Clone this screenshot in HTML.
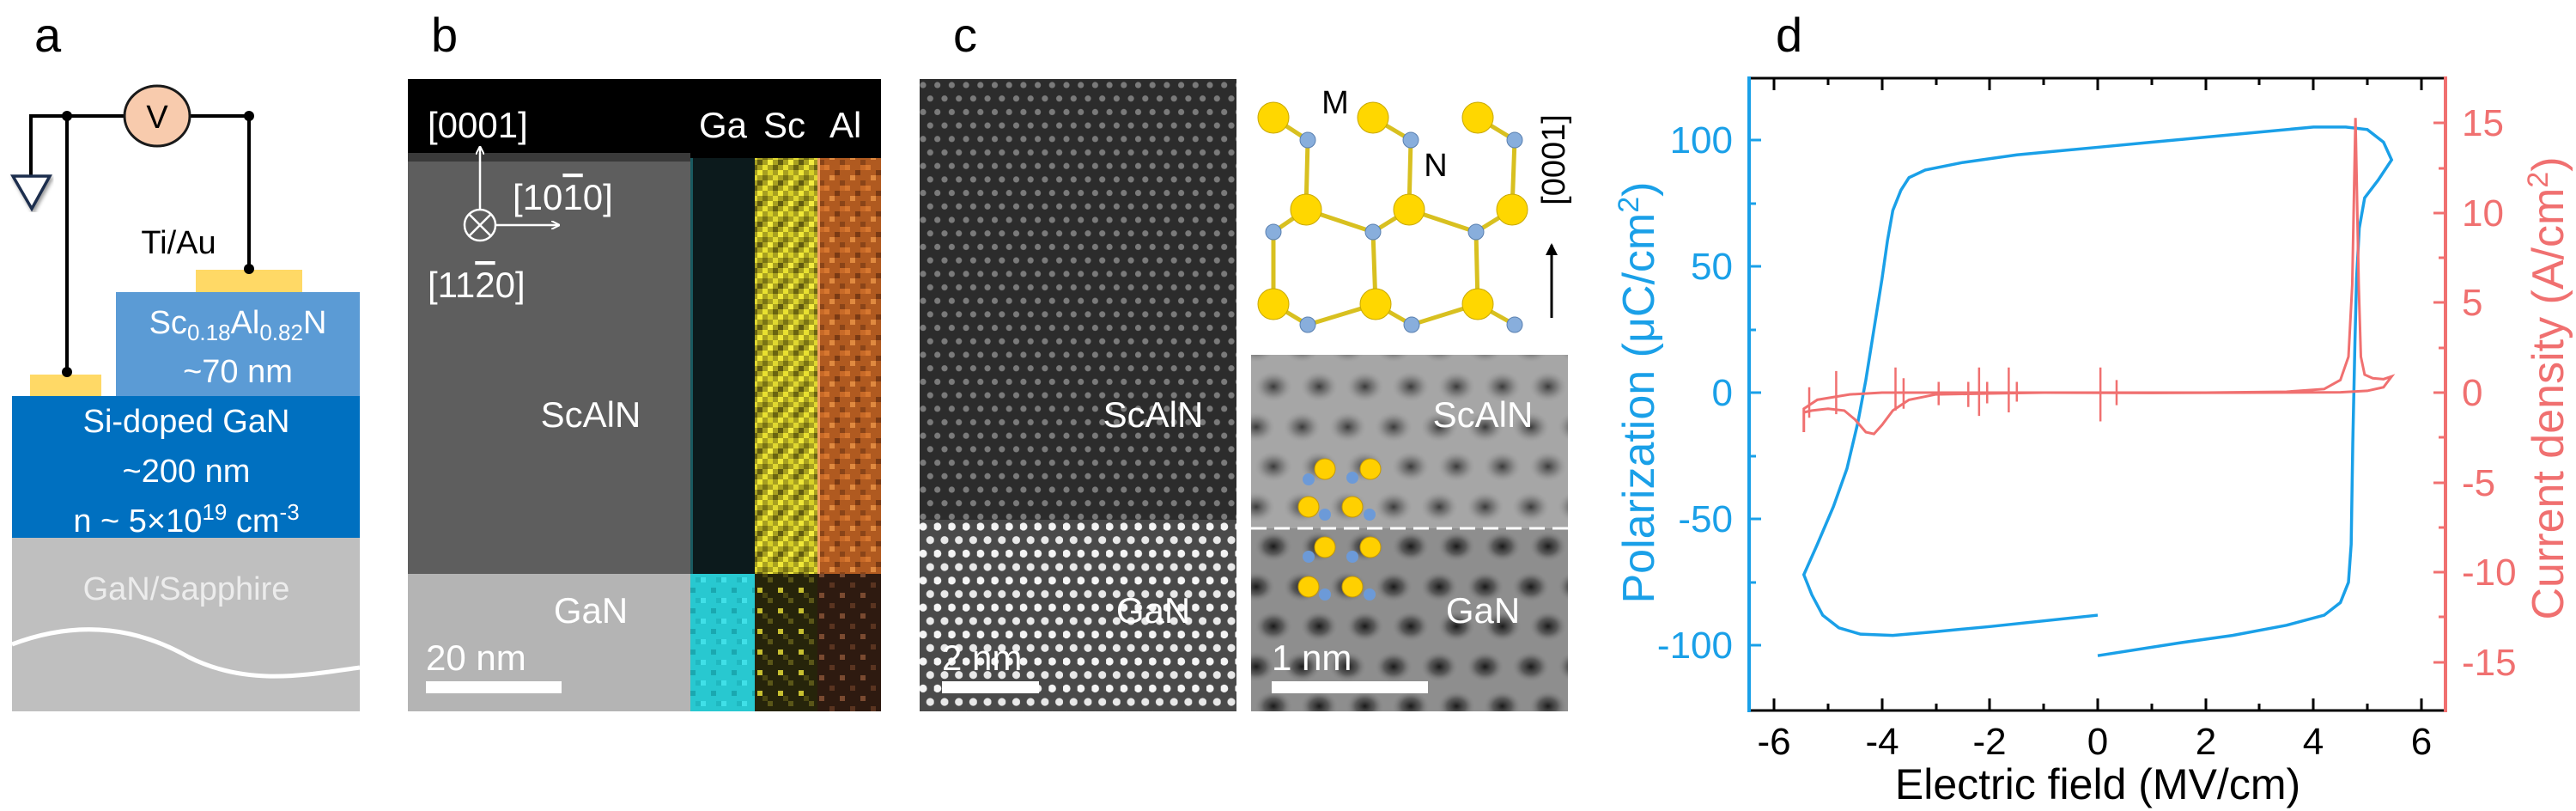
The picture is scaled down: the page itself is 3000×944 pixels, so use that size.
<!DOCTYPE html>
<html><head><meta charset="utf-8"><style>
html,body{margin:0;padding:0;background:#fff}
svg{display:block}
text{font-family:"Liberation Sans",Arial,sans-serif}
</style></head><body>
<svg width="3000" height="944" viewBox="0 0 3000 944" xmlns="http://www.w3.org/2000/svg">
<defs>
<pattern id="scDots" x="1071" y="92" width="16.7" height="31.4" patternUnits="userSpaceOnUse">
<rect width="16.7" height="31.4" fill="#2c2c2c"/>
<circle cx="4" cy="7" r="3.6" fill="#7a7a7a"/>
<circle cx="12.3" cy="22.7" r="3.6" fill="#7a7a7a"/>
</pattern>
<pattern id="ganDots" x="1071" y="605" width="16.7" height="31.4" patternUnits="userSpaceOnUse">
<rect width="16.7" height="31.4" fill="#4a4a4a"/>
<circle cx="4" cy="8" r="4.6" fill="#f4f4f4"/>
<circle cx="12.3" cy="23.7" r="4.6" fill="#e8e8e8"/>
</pattern>
<radialGradient id="spot"><stop offset="0" stop-color="#1a1a1a"/><stop offset="0.5" stop-color="#444" stop-opacity="0.7"/><stop offset="1" stop-color="#888" stop-opacity="0"/></radialGradient>
<radialGradient id="spotL"><stop offset="0" stop-color="#3a3a3a"/><stop offset="0.5" stop-color="#666" stop-opacity="0.6"/><stop offset="1" stop-color="#999" stop-opacity="0"/></radialGradient>
<pattern id="hrSpots" x="1457" y="427" width="53.3" height="93" patternUnits="userSpaceOnUse">
<rect width="53.3" height="93" fill="#8e8e8e"/>
<ellipse cx="26" cy="23" rx="22" ry="18" fill="url(#spot)"/>
<ellipse cx="6" cy="70" rx="22" ry="18" fill="url(#spot)"/>
<ellipse cx="59.3" cy="70" rx="22" ry="18" fill="url(#spot)"/>
</pattern>
<pattern id="hrSpotsTop" x="1457" y="427" width="53.3" height="93" patternUnits="userSpaceOnUse">
<rect width="53.3" height="93" fill="#a6a6a6"/>
<ellipse cx="26" cy="23" rx="22" ry="18" fill="url(#spotL)"/>
<ellipse cx="6" cy="70" rx="22" ry="18" fill="url(#spotL)"/>
<ellipse cx="59.3" cy="70" rx="22" ry="18" fill="url(#spotL)"/>
</pattern>
<pattern id="scY" width="24" height="24" patternUnits="userSpaceOnUse">
<rect width="24" height="24" fill="#a8a020"/>
<rect x="0" y="0" width="6" height="6" fill="#e8e030"/><rect x="12" y="0" width="6" height="6" fill="#6a6410"/>
<rect x="6" y="6" width="6" height="6" fill="#d8d028"/><rect x="18" y="6" width="6" height="6" fill="#f0e838"/>
<rect x="0" y="12" width="6" height="6" fill="#7a7414"/><rect x="12" y="12" width="6" height="6" fill="#e0d830"/>
<rect x="6" y="18" width="6" height="6" fill="#f4ec40"/><rect x="18" y="18" width="6" height="6" fill="#605a10"/>
</pattern>
<pattern id="scD" width="24" height="24" patternUnits="userSpaceOnUse">
<rect width="24" height="24" fill="#26240a"/>
<rect x="6" y="0" width="6" height="6" fill="#5a5618"/><rect x="18" y="12" width="6" height="6" fill="#c8c030"/>
<rect x="0" y="18" width="6" height="6" fill="#4a4612"/>
</pattern>
<pattern id="alO" width="24" height="24" patternUnits="userSpaceOnUse">
<rect width="24" height="24" fill="#b05a20"/>
<rect x="0" y="0" width="6" height="6" fill="#d87830"/><rect x="12" y="6" width="6" height="6" fill="#7a3a14"/>
<rect x="6" y="12" width="6" height="6" fill="#e08a40"/><rect x="18" y="18" width="6" height="6" fill="#8a4418"/>
<rect x="18" y="0" width="6" height="6" fill="#c86a28"/>
</pattern>
<pattern id="alD" width="24" height="24" patternUnits="userSpaceOnUse">
<rect width="24" height="24" fill="#2e1a10"/>
<rect x="6" y="6" width="6" height="6" fill="#5a3420"/><rect x="18" y="18" width="6" height="6" fill="#7a4a30"/>
</pattern>
<pattern id="gaC" width="24" height="24" patternUnits="userSpaceOnUse">
<rect width="24" height="24" fill="#28c8d0"/>
<rect x="0" y="0" width="6" height="6" fill="#40e0e8"/><rect x="12" y="12" width="6" height="6" fill="#1aa8b0"/>
<rect x="18" y="0" width="6" height="6" fill="#20b8c0"/>
</pattern>
<marker id="ah" markerWidth="10" markerHeight="10" refX="8" refY="5" orient="auto" markerUnits="userSpaceOnUse"><path d="M0,0 L10,5 L0,10" fill="none" stroke="#fff" stroke-width="2"/></marker>
<marker id="ahk" markerWidth="14" markerHeight="14" refX="12" refY="7" orient="auto" markerUnits="userSpaceOnUse"><path d="M0,0 L14,7 L0,14 Z" fill="#000"/></marker>
<filter id="sh"><feDropShadow dx="2" dy="3" stdDeviation="2" flood-opacity="0.4"/></filter>
</defs>

<!-- ===== Panel a ===== -->
<text x="40" y="60" font-size="56">a</text>
<rect x="14" y="626" width="405" height="202" fill="#bfbfbf"/>
<path d="M14,750 C80,725 150,725 220,765 C290,800 360,785 419,777" fill="none" stroke="#fff" stroke-width="5"/>
<text x="217" y="698" font-size="38" fill="#ececec" text-anchor="middle">GaN/Sapphire</text>
<rect x="14" y="461" width="405" height="165" fill="#0070c0"/>
<text x="217" y="503" font-size="38" fill="#fff" text-anchor="middle">Si-doped GaN</text>
<text x="217" y="561" font-size="38" fill="#fff" text-anchor="middle">~200 nm</text>
<text x="217" y="619" font-size="38" fill="#fff" text-anchor="middle">n ~ 5×10<tspan font-size="26" dy="-14">19</tspan><tspan dy="14"> cm</tspan><tspan font-size="26" dy="-14">-3</tspan></text>
<rect x="135" y="340" width="284" height="121" fill="#5b9bd5"/>
<text x="277" y="388" font-size="38" fill="#fff" text-anchor="middle">Sc<tspan font-size="26" dy="8">0.18</tspan><tspan dy="-8">Al</tspan><tspan font-size="26" dy="8">0.82</tspan><tspan dy="-8">N</tspan></text>
<text x="277" y="445" font-size="38" fill="#fff" text-anchor="middle">~70 nm</text>
<rect x="228" y="314" width="124" height="26" fill="#ffd966"/>
<rect x="35" y="436" width="83" height="25" fill="#ffd966"/>
<text x="208" y="295" font-size="38" text-anchor="middle">Ti/Au</text>
<g stroke="#000" stroke-width="4" fill="none">
<path d="M36,135 L290,135 L290,313"/>
<path d="M78,135 L78,433"/>
<path d="M36,133 L36,204"/>
</g>
<path d="M15,205 L58,205 L37,243 Z" fill="#fff" stroke="#1f2d4e" stroke-width="3.5" filter="url(#sh)"/>
<circle cx="78" cy="135" r="6"/><circle cx="290" cy="135" r="6"/><circle cx="78" cy="433" r="6"/><circle cx="290" cy="313" r="6"/>
<ellipse cx="183" cy="135" rx="38" ry="35" fill="#f8cbad" stroke="#1a1a1a" stroke-width="3"/>
<text x="183" y="149" font-size="38" text-anchor="middle">V</text>

<!-- ===== Panel b ===== -->
<text x="502" y="60" font-size="56">b</text>
<rect x="475" y="92" width="551" height="736" fill="#000"/>
<rect x="475" y="184" width="329" height="484" fill="#5e5e5e"/>
<rect x="475" y="178" width="329" height="10" fill="#3a3a3a"/>
<rect x="475" y="668" width="329" height="160" fill="#b4b4b4"/>
<rect x="804" y="184" width="75" height="484" fill="#0c1a1c"/>
<rect x="804" y="184" width="3" height="484" fill="#1a5a60"/>
<rect x="804" y="668" width="75" height="160" fill="url(#gaC)"/>
<rect x="879" y="184" width="73" height="484" fill="url(#scY)"/>
<rect x="879" y="668" width="73" height="160" fill="url(#scD)"/>
<rect x="952" y="184" width="74" height="484" fill="url(#alO)"/>
<rect x="952" y="184" width="3" height="484" fill="#f0a060"/>
<rect x="952" y="668" width="74" height="160" fill="url(#alD)"/>
<g fill="#fff" font-size="42">
<text x="498" y="160">[0001]</text>
<text x="814" y="160">Ga</text><text x="889" y="160">Sc</text><text x="966" y="160">Al</text>
<text x="597" y="244">[10<tspan text-decoration="overline">1</tspan>0]</text>
<text x="498" y="346">[11<tspan text-decoration="overline">2</tspan>0]</text>
<text x="688" y="497" text-anchor="middle">ScAlN</text>
<text x="688" y="725" text-anchor="middle">GaN</text>
<text x="496" y="780">20 nm</text>
</g>
<rect x="496" y="793" width="158" height="14" fill="#fff"/>
<g stroke="#fff" stroke-width="2.5" fill="none">
<circle cx="559" cy="262" r="18"/>
<path d="M546,249 L572,275 M572,249 L546,275"/>
<path d="M559,244 L559,172" marker-end="url(#ah)"/>
<path d="M577,262 L650,262" marker-end="url(#ah)"/>
</g>

<!-- ===== Panel c ===== -->
<text x="1110" y="60" font-size="56">c</text>
<rect x="1071" y="92" width="369" height="513" fill="url(#scDots)"/>
<rect x="1071" y="605" width="369" height="223" fill="url(#ganDots)"/>
<g fill="#fff" font-size="42">
<text x="1343" y="497" text-anchor="middle">ScAlN</text>
<text x="1343" y="725" text-anchor="middle">GaN</text>
<text x="1097" y="780">2 nm</text>
</g>
<rect x="1097" y="793" width="113" height="14" fill="#fff"/>

<!-- crystal structure -->
<g stroke-width="5">
<g stroke="#d8c020">
<path d="M1483,137 L1523,163 M1599,137 L1643,163 M1721,137 L1764,163 M1523,163 L1521,244 M1643,163 L1641,244 M1764,163 L1761,244 M1521,244 L1483,270 M1521,244 L1599,270 M1641,244 L1599,270 M1641,244 L1719,270 M1761,244 L1719,270 M1483,270 L1483,354 M1599,270 L1602,354 M1719,270 L1721,354 M1483,354 L1523,378 M1523,378 L1602,354 M1602,354 L1644,378 M1644,378 L1721,354 M1721,354 L1764,378"/>
</g>
</g>
<g fill="#ffd700" stroke="#c8a800" stroke-width="1">
<circle cx="1483" cy="137" r="18"/><circle cx="1599" cy="137" r="18"/><circle cx="1721" cy="137" r="18"/>
<circle cx="1521" cy="244" r="18"/><circle cx="1641" cy="244" r="18"/><circle cx="1761" cy="244" r="18"/>
<circle cx="1483" cy="354" r="18"/><circle cx="1602" cy="354" r="18"/><circle cx="1721" cy="354" r="18"/>
</g>
<g fill="#88aedc" stroke="#5a80b0" stroke-width="1">
<circle cx="1523" cy="163" r="9"/><circle cx="1643" cy="163" r="9"/><circle cx="1764" cy="163" r="9"/>
<circle cx="1483" cy="270" r="9"/><circle cx="1599" cy="270" r="9"/><circle cx="1719" cy="270" r="9"/>
<circle cx="1523" cy="378" r="9"/><circle cx="1644" cy="378" r="9"/><circle cx="1764" cy="378" r="9"/>
</g>
<text x="1555" y="132" font-size="38" text-anchor="middle">M</text>
<text x="1672" y="205" font-size="38" text-anchor="middle">N</text>
<text transform="translate(1822,186) rotate(-90)" font-size="38" text-anchor="middle">[0001]</text>
<path d="M1807,370 L1807,285" stroke="#000" stroke-width="3" marker-end="url(#ahk)"/>

<!-- HRSTEM -->
<rect x="1457" y="413" width="369" height="202" fill="url(#hrSpotsTop)"/>
<rect x="1457" y="615" width="369" height="213" fill="url(#hrSpots)"/>
<path d="M1457,615 L1826,615" stroke="#fff" stroke-width="3" stroke-dasharray="18,9"/>
<g fill="#ffd000" stroke="#c89a00" stroke-width="1">
<circle cx="1543" cy="546" r="12"/><circle cx="1596" cy="546" r="12"/><circle cx="1524" cy="590" r="12"/><circle cx="1575" cy="590" r="12"/>
<circle cx="1543" cy="637" r="12"/><circle cx="1596" cy="637" r="12"/><circle cx="1524" cy="683" r="12"/><circle cx="1575" cy="683" r="12"/>
</g>
<g fill="#6c9ad8">
<circle cx="1524" cy="558" r="7"/><circle cx="1575" cy="556" r="7"/><circle cx="1543" cy="599" r="7"/><circle cx="1595" cy="599" r="7"/>
<circle cx="1524" cy="648" r="7"/><circle cx="1575" cy="648" r="7"/><circle cx="1543" cy="692" r="7"/><circle cx="1595" cy="692" r="7"/>
</g>
<g fill="#fff" font-size="42">
<text x="1727" y="497" text-anchor="middle">ScAlN</text>
<text x="1727" y="725" text-anchor="middle">GaN</text>
<text x="1481" y="780">1 nm</text>
</g>
<rect x="1481" y="793" width="182" height="14" fill="#fff"/>

<!-- ===== Panel d ===== -->
<text x="2068" y="60" font-size="56">d</text>
<path d="M2037,91 L2848,91 M2037,827 L2848,827" stroke="#000" stroke-width="3"/>
<path d="M2037,89 L2037,829" stroke="#1aa0e8" stroke-width="4"/>
<path d="M2848,89 L2848,829" stroke="#f07070" stroke-width="4"/>
<g stroke="#000" stroke-width="3">
<path d="M2066,827 v-14 M2192,827 v-14 M2317,827 v-14 M2443,827 v-14 M2569,827 v-14 M2694,827 v-14 M2820,827 v-14"/>
<path d="M2129,827 v-8 M2255,827 v-8 M2380,827 v-8 M2506,827 v-8 M2631,827 v-8 M2757,827 v-8"/>
<path d="M2066,91 v14 M2192,91 v14 M2317,91 v14 M2443,91 v14 M2569,91 v14 M2694,91 v14 M2820,91 v14"/>
<path d="M2129,91 v8 M2255,91 v8 M2380,91 v8 M2506,91 v8 M2631,91 v8 M2757,91 v8"/>
</g>
<g stroke="#1aa0e8" stroke-width="3">
<path d="M2037,163 h14 M2037,310 h14 M2037,457 h14 M2037,604 h14 M2037,751 h14"/>
<path d="M2037,237 h8 M2037,384 h8 M2037,531 h8 M2037,678 h8"/>
</g>
<g stroke="#f07070" stroke-width="3">
<path d="M2848,143 h-14 M2848,248 h-14 M2848,352 h-14 M2848,457 h-14 M2848,562 h-14 M2848,666 h-14 M2848,771 h-14"/>
<path d="M2848,196 h-8 M2848,300 h-8 M2848,405 h-8 M2848,509 h-8 M2848,614 h-8 M2848,718 h-8"/>
</g>
<g font-size="44" fill="#1aa0e8" text-anchor="end">
<text x="2018" y="178">100</text><text x="2018" y="325">50</text><text x="2018" y="472">0</text><text x="2018" y="619">-50</text><text x="2018" y="766">-100</text>
</g>
<g font-size="44" fill="#f07070">
<text x="2867" y="158">15</text><text x="2867" y="263">10</text><text x="2867" y="367">5</text><text x="2867" y="472">0</text><text x="2867" y="577">-5</text><text x="2867" y="681">-10</text><text x="2867" y="786">-15</text>
</g>
<g font-size="44" text-anchor="middle">
<text x="2066" y="878">-6</text><text x="2192" y="878">-4</text><text x="2317" y="878">-2</text><text x="2443" y="878">0</text><text x="2569" y="878">2</text><text x="2694" y="878">4</text><text x="2820" y="878">6</text>
</g>
<text x="2443" y="930" font-size="50" text-anchor="middle">Electric field (MV/cm)</text>
<text transform="translate(1926,457) rotate(-90)" font-size="52" fill="#1aa0e8" text-anchor="middle">Polarization (μC/cm<tspan font-size="34" dy="-18">2</tspan><tspan dy="18">)</tspan></text>
<text transform="translate(2985,452) rotate(-90)" font-size="52" fill="#f07070" text-anchor="middle">Current density (A/cm<tspan font-size="34" dy="-18">2</tspan><tspan dy="18">)</tspan></text>

<g transform="translate(2443,457) scale(62.8,-2.944)">
<path vector-effect="non-scaling-stroke" fill="none" stroke="#1aa0e8" stroke-width="3.5"
d="M0,-88 L-2,-92.5 L-3,-94.5 L-3.8,-96 L-4.4,-95.5 L-4.8,-93 L-5.1,-88 L-5.3,-80 L-5.45,-72 L-5.2,-60 L-4.9,-45 L-4.65,-30 L-4.45,-12 L-4.3,5 L-4.15,25 L-4,45 L-3.9,60 L-3.8,72 L-3.65,80 L-3.5,85 L-3.2,88 L-2.5,91 L-1.5,94 L0,97 L1,99 L2,101 L3,103 L4,105 L4.6,105 L5,104 L5.3,99 L5.45,92 L5.2,84 L4.95,77 L4.85,65 L4.8,45 L4.77,20 L4.73,-20 L4.7,-60 L4.65,-75 L4.5,-83 L4.2,-88 L3.5,-92 L2.5,-96 L1.5,-99 L0,-104"/>
</g>
<g transform="translate(2443,457) scale(62.8,-20.9)">
<path vector-effect="non-scaling-stroke" fill="none" stroke="#f07070" stroke-width="3"
d="M-5.45,-2.2 L-5.45,-0.9 L-5.2,-0.4 L-5,-0.3 L-4.6,-0.1 L-4,0 L-3,0 L-2,0 L0,0 L2,0 L3.5,0.05 L4.2,0.2 L4.5,0.7 L4.65,2 L4.72,6 L4.78,15.3 L4.84,6 L4.88,2 L4.95,1 L5.1,0.8 L5.3,0.75 L5.45,0.9 L5.3,0.3 L5,0.1 L4.5,0.02 L3,0 L1,-0.02 L-1,0 L-2,-0.05 L-3,-0.1 L-3.5,-0.4 L-3.8,-1 L-4,-1.8 L-4.15,-2.3 L-4.3,-2.2 L-4.5,-1.5 L-4.7,-1.0 L-5,-0.9 L-5.3,-1 L-5.45,-1.1"/>
<path vector-effect="non-scaling-stroke" fill="none" stroke="#f07070" stroke-width="2.5"
d="M-5.35,-1.4 V0.3 M-4.85,-1.2 V1.2 M-3.75,-1 V1.4 M-3.6,-0.9 V0.8 M-2.95,-0.7 V0.6 M-2.4,-0.8 V0.6 M-2.2,-1.3 V1.4 M-2.05,-0.6 V0.6 M-1.65,-1.1 V1.4 M-1.5,-0.5 V0.6 M0.05,-1.6 V1.4 M0.35,-0.7 V0.7"/>
</g>
</svg>
</body></html>
